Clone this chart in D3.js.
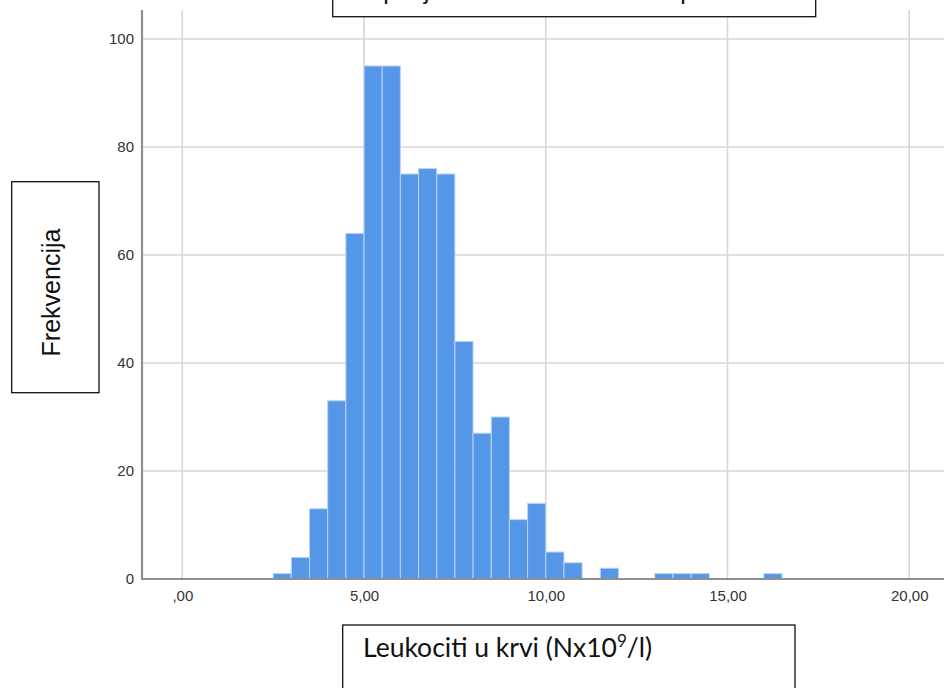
<!DOCTYPE html>
<html>
<head>
<meta charset="utf-8">
<script src="https://cdn.jsdelivr.net/npm/d3@7"></script>
<style>
  body { margin: 0; background: #fff; }
  svg { display: block; }
</style>
</head>
<body>
<div id="chart"></div>
<script>
// histogram bins (lower edge, width 0.5) and frequencies
const binLow = [2.5, 3.0, 3.5, 4.0, 4.5, 5.0, 5.5, 6.0, 6.5, 7.0, 7.5, 8.0, 8.5, 9.0, 9.5, 10.0, 10.5, 11.5, 13.0, 13.5, 14.0, 16.0]
const counts = [1, 4, 13, 33, 64, 95, 95, 75, 76, 75, 44, 27, 30, 11, 14, 5, 3, 2, 1, 1, 1, 1]
const binWidth = 0.5

const xTicks = [0, 5, 10, 15, 20]
const yTicks = [0, 20, 40, 60, 80, 100]

const titleText = 'Raspodjela leukocita u uzorku ispitanika'
const yLabel = 'Frekvencija'
const xLabel = 'Leukociti u krvi (Nx10'
const xLabelSup = '9'
const xLabelEnd = '/l)'

const width = 944
const height = 688
const plot = { left: 142, top: 10, right: 944, bottom: 579 }

const svg = d3.select('#chart')
  .append('svg')
  .attr('width', width)
  .attr('height', height)

const x = d3.scaleLinear()
  .domain([-1.109, 20.957])
  .range([plot.left, plot.right])

const y = d3.scaleLinear()
  .domain([0, 105.37])
  .range([plot.bottom, plot.top])

const fmt = d => d === 0 ? ',00' : d3.format('.2f')(d).replace('.', ',')

// gridlines
svg.append('g')
  .selectAll('line')
  .data(xTicks)
  .join('line')
  .attr('x1', d => x(d)).attr('x2', d => x(d))
  .attr('y1', plot.top).attr('y2', plot.bottom)
  .attr('stroke', '#d6d6d6')
  .attr('stroke-width', 1.6)

svg.append('g')
  .selectAll('line')
  .data(yTicks.filter(d => d > 0))
  .join('line')
  .attr('x1', plot.left).attr('x2', plot.right)
  .attr('y1', d => y(d)).attr('y2', d => y(d))
  .attr('stroke', '#d6d6d6')
  .attr('stroke-width', 1.6)

// bars
svg.append('g')
  .selectAll('rect')
  .data(binLow.map((lo, i) => ({ lo, n: counts[i] })))
  .join('rect')
  .attr('x', d => x(d.lo))
  .attr('width', d => x(d.lo + binWidth) - x(d.lo))
  .attr('y', d => y(d.n))
  .attr('height', d => y(0) - y(d.n))
  .attr('fill', '#5596e6')
  .attr('stroke', '#b9d4f5')
  .attr('stroke-width', 1)

// axes
const xAxis = d3.axisBottom(x).tickValues(xTicks).tickFormat(fmt).tickSize(0).tickPadding(11)
const yAxis = d3.axisLeft(y).tickValues(yTicks).tickFormat(d3.format('d')).tickSize(0).tickPadding(8)

const gx = svg.append('g')
  .attr('transform', `translate(0,${plot.bottom})`)
  .call(xAxis)
gx.select('.domain').remove()

const gy = svg.append('g')
  .attr('transform', `translate(${plot.left},0)`)
  .call(yAxis)
gy.select('.domain').remove()

svg.selectAll('.tick text')
  .attr('font-family', 'Liberation Sans, Arial, sans-serif')
  .attr('font-size', 15)
  .attr('fill', '#333')

svg.append('line')
  .attr('x1', plot.left).attr('x2', plot.left)
  .attr('y1', plot.top).attr('y2', plot.bottom + 1)
  .attr('stroke', '#8f8f8f')
  .attr('stroke-width', 2.2)

svg.append('line')
  .attr('x1', plot.left).attr('x2', plot.right)
  .attr('y1', plot.bottom).attr('y2', plot.bottom)
  .attr('stroke', '#8f8f8f')
  .attr('stroke-width', 2.2)

// text boxes laid over the chart
const boxStyle = sel => sel.attr('fill', '#fff').attr('stroke', '#111').attr('stroke-width', 1.3)

svg.append('rect').attr('x', 332.7).attr('y', -30).attr('width', 483).attr('height', 46.7).call(boxStyle)
svg.append('text')
  .attr('x', 346).attr('y', -0.5)
  .attr('font-family', 'Lato, sans-serif')
  .attr('font-size', 24)
  .attr('fill', '#111')
  .text(titleText)

svg.append('rect').attr('x', 11.7).attr('y', 181.7).attr('width', 87.3).attr('height', 211).call(boxStyle)
svg.append('text')
  .attr('transform', 'translate(60,292.5) rotate(-90)')
  .attr('text-anchor', 'middle')
  .attr('font-family', 'Liberation Sans, Arial, sans-serif')
  .attr('font-size', 25)
  .attr('fill', '#111')
  .text(yLabel)

svg.append('rect').attr('x', 342.7).attr('y', 625).attr('width', 452.3).attr('height', 90).call(boxStyle)
const xl = svg.append('text')
  .attr('x', 363).attr('y', 657)
  .attr('font-family', 'Lato, sans-serif')
  .attr('font-size', 26.5)
  .attr('fill', '#111')
xl.append('tspan').text(xLabel)
xl.append('tspan').attr('dy', -10).attr('font-size', 17).text(xLabelSup)
xl.append('tspan').attr('dy', 10).text(xLabelEnd)
</script>
</body>
</html>
